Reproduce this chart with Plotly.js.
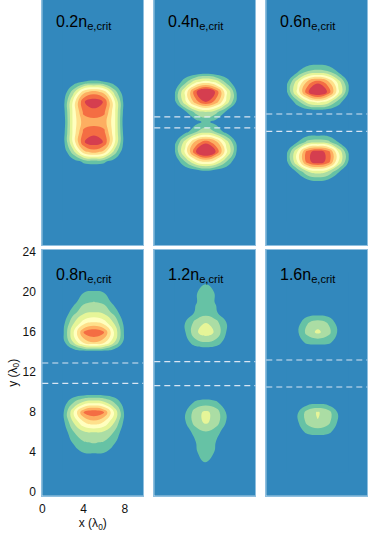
<!DOCTYPE html>
<html>
<head>
<meta charset="utf-8">
<script src="https://cdn.plot.ly/plotly-3.0.1.min.js"></script>
<style>
  html, body { margin: 0; padding: 0; background: #fff; }
  #fig { width: 370px; height: 536px; }
</style>
</head>
<body>
<div id="fig"></div>
<script>
// density labels of the six runs (units of n_e,crit)
var densities = ['0.2', '0.4', '0.6', '0.8', '1.2', '1.6'];

// grid: rows at y = 2..22, half columns at x = 5..8 (field is mirror symmetric about x = 5)
var yRows = [2, 3, 4, 5, 6, 7, 8, 9, 10, 11, 12, 13, 14, 15, 16, 17, 18, 19, 20, 21, 22];
var xHalf = [5, 6, 7, 8];

// contour level (1 = green edge ... 8 = red core)
var dens02 = [
  [0,0,0,0],[0,0,0,0],[0,0,0,0],[0,0,0,0],[0,0,0,0],[0,0,0,0],
  [1.3,1.15,0.4,0],[6.5,5.6,2.6,0],[8.7,7.9,4.3,0.4],[7.6,7.2,4.3,0.3],
  [6.6,6.5,4.3,0.1],
  [7.6,7.2,4.3,0.3],[8.7,7.9,4.3,0.4],[6.5,5.6,2.6,0],[1.2,1.05,0.35,0],
  [0,0,0,0],[0,0,0,0],[0,0,0,0],[0,0,0,0],[0,0,0,0],[0,0,0,0]
];
var dens04 = [
  [0,0,0,0],[0,0,0,0],[0,0,0,0],[0,0,0,0],[0,0,0,0],
  [0.5,0,0,0],[4.97,4.1,1.96,0.13],[10.0,7.9,4.32,0.96],[7.59,6.25,3.49,0.69],[2.56,1.91,0.6,0],
  [1.3,0.6,0,0],
  [2.96,2.28,0.75,0],[7.99,6.54,3.68,0.75],[9.6,7.8,4.23,0.93],[4.57,3.74,1.68,0],[0.3,0,0,0],
  [0,0,0,0],[0,0,0,0],[0,0,0,0],[0,0,0,0],[0,0,0,0]
];
var dens06 = [
  [0,0,0,0],[0,0,0,0],[0,0,0,0],[0,0,0,0],
  [0.76,0.4,0,0],[3.43,2.9,1.1,0],[8.72,7.6,3.97,0.84],[8.61,7.6,3.93,0.83],[2.6,2.3,0.89,0],
  [0,0,0,0],[0,0,0,0],[0,0,0,0],
  [4.28,3.48,1.47,0],[9.57,7.8,4.22,0.93],[7.76,6.37,3.58,0.71],[2.48,2.2,0.9,0],[0.45,0.2,0,0],
  [0,0,0,0],[0,0,0,0],[0,0,0,0],[0,0,0,0]
];
var dens08 = [
  [0,0,0,0],[0,0,0,0],
  [1.1,1.05,0.6,0],[2.1,1.9,1.1,0],[3.0,2.8,1.9,0.2],[5.6,4.9,3.0,0.6],[7.9,7.0,3.85,0.75],[3.6,3.2,1.9,0.3],
  [0,0,0,0],[0,0,0,0],[0,0,0,0],[0,0,0,0],
  [0.16,0.1,0,0],[6.0,5.3,3.0,0.5],[7.9,7.0,3.85,0.75],[5.0,4.4,2.8,0.55],[3.0,2.7,1.6,0],[2.06,1.8,0.6,0],[1.15,0.98,0.2,0],
  [0,0,0,0],[0,0,0,0]
];
var dens12 = [
  [0,0,0,0],
  [1.02,0.75,0,0],[1.2,0.95,0,0],[1.3,0.98,0.15,0],[1.9,1.4,0.4,0],[3.2,2.5,0.9,0],[3.25,2.55,0.9,0],[1.4,1.15,0.3,0],
  [0,0,0,0],[0,0,0,0],[0,0,0,0],[0,0,0,0],[0,0,0,0],
  [1.95,1.6,0.5,0],[3.6,2.8,0.95,0],[2.95,2.3,0.98,0],[1.5,1.1,0.3,0],[1.3,0.95,0.2,0],[1.2,0.95,0,0],[0.95,0.7,0,0],
  [0,0,0,0]
];
var dens16 = [
  [0,0,0,0],[0,0,0,0],[0,0,0,0],[0,0,0,0],
  [1.37,1.2,0.5,0],[2.95,2.3,0.8,0],[3.1,2.5,0.8,0],[0.55,0.4,0,0],
  [0,0,0,0],[0,0,0,0],[0,0,0,0],[0,0,0,0],[0,0,0,0],
  [1.3,1.2,0.6,0],[3.25,2.4,0.8,0],[2.4,1.9,0.45,0],[0.35,0.25,0,0],
  [0,0,0,0],[0,0,0,0],[0,0,0,0],[0,0,0,0]
];

// dashed guide lines (y in lambda_0), none in the first panel
var gapLow  = [null, 11.4, 11.06, 10.9, 10.66, 10.53];
var gapHigh = [null, 12.5, 12.8, 12.93, 13.06, 13.23];

var yTicks = [0, 4, 8, 12, 16, 20, 24];
var xTicks = [0, 4, 8];

var fields = [dens02, dens04, dens06, dens08, dens12, dens16];
var spectral = ['#3288bd', '#66c2a5', '#abdda4', '#e6f598', '#ffffbf', '#fee08b', '#fdae61', '#f46d43', '#d53e4f'];
var cscale = spectral.map(function (c, i) { return [i / 8, c]; });

var xFull = xHalf.slice(1).reverse().map(function (v) { return 10 - v; }).concat(xHalf);
function mirrorRow(r) { return [r[3], r[2], r[1], r[0], r[1], r[2], r[3]]; }

var xDom = [[0.1143, 0.3873], [0.4170, 0.6900], [0.7197, 0.9927]];
var yDom = [[0.5429, 1.0], [0.0752, 0.5336]];
var font = 'Liberation Sans, Arial, Helvetica, sans-serif';
var blue = '#3288bd';

var data = [];
var layout = {
  width: 370, height: 536,
  margin: {l: 0, r: 0, t: 0, b: 0},
  paper_bgcolor: '#fff',
  plot_bgcolor: blue,
  showlegend: false,
  font: {family: font, size: 12, color: '#111'},
  annotations: [],
  shapes: []
};

fields.forEach(function (f, i) {
  var n = i === 0 ? '' : String(i + 1);
  data.push({
    type: 'contour',
    x: xFull, y: yRows, z: f.map(mirrorRow),
    xaxis: 'x' + n, yaxis: 'y' + n,
    colorscale: cscale,
    autocontour: false,
    contours: {start: 1, end: 8, size: 1, coloring: 'fill', showlines: false},
    line: {width: 0, smoothing: 1.3},
    showscale: false,
    hoverinfo: 'skip'
  });

  var showTicks = i === 3;
  layout['xaxis' + n] = {
    domain: xDom[i % 3], anchor: 'y' + n,
    range: [0, 9.8], showgrid: false, zeroline: false,
    showline: true, mirror: true, linecolor: '#8fbfdf', linewidth: 1,
    ticks: showTicks ? 'outside' : '', ticklen: 2, tickcolor: 'rgba(0,0,0,0)',
    tickvals: xTicks, showticklabels: showTicks,
    tickfont: {family: font, size: 12, color: '#111'},
    title: showTicks ? {text: 'x (λ<sub>0</sub>)', font: {family: font, size: 12, color: '#111'}, standoff: 1} : {text: ''},
    fixedrange: true
  };
  layout['yaxis' + n] = {
    domain: yDom[i < 3 ? 0 : 1], anchor: 'x' + n,
    range: [-0.34, 24.23], showgrid: false, zeroline: false,
    showline: true, mirror: true, linecolor: '#8fbfdf', linewidth: 1,
    ticks: showTicks ? 'outside' : '', ticklen: 3, tickcolor: 'rgba(0,0,0,0)',
    tickvals: yTicks, showticklabels: showTicks,
    tickfont: {family: font, size: 12, color: '#111'},
    title: showTicks ? {text: 'y (λ<sub>0</sub>)', font: {family: font, size: 12, color: '#111'}, standoff: 2} : {text: ''},
    fixedrange: true
  };

  layout.annotations.push({
    xref: 'x' + n + ' domain', yref: 'y' + n + ' domain',
    x: 0.12, y: i < 3 ? 0.955 : 0.945,
    xanchor: 'left', yanchor: 'top',
    text: densities[i] + 'n<sub>e,crit</sub>',
    showarrow: false,
    font: {family: font, size: 16, color: '#000'}
  });

  if (gapLow[i] !== null) {
    [gapLow[i], gapHigh[i]].forEach(function (yv) {
      layout.shapes.push({
        type: 'line', xref: 'x' + n + ' domain', yref: 'y' + n,
        x0: 0, x1: 1, y0: yv, y1: yv,
        line: {color: 'rgba(235,240,248,0.9)', width: 1.2, dash: '6px,4px'}
      });
    });
  }
});

Plotly.newPlot('fig', data, layout, {displayModeBar: false, staticPlot: true});
</script>
</body>
</html>
